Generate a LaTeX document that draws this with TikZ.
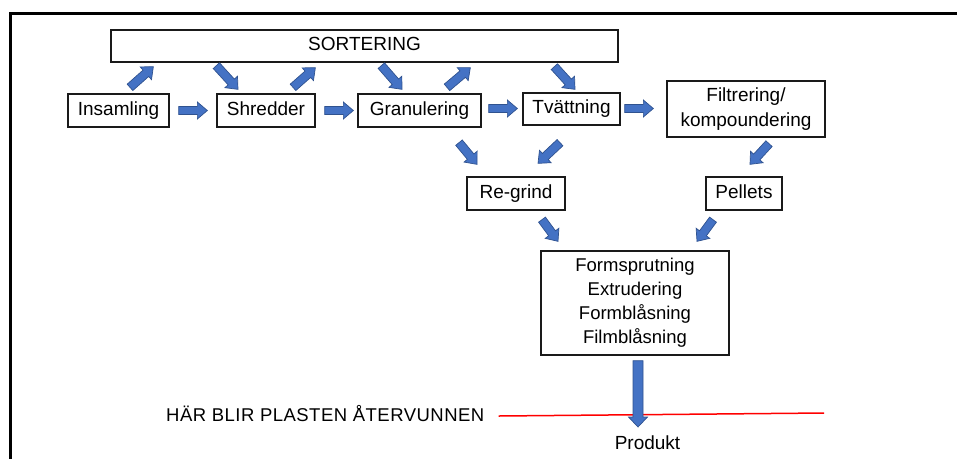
\documentclass[tikz,border=0pt]{standalone}
\usepackage{fontspec}
\setmainfont{Liberation Sans}
\usetikzlibrary{calc}

\definecolor{arrowblue}{HTML}{4472C4}
\definecolor{arrowedge}{HTML}{2F528F}
\definecolor{boxline}{HTML}{1A1A1A}

\tikzset{
  box/.style={draw=boxline, line width=1.3, fill=white, inner sep=0pt,
              font=\fontsize{19}{24}\selectfont},
  onebox/.style={box, text height=13.6pt, text depth=4pt},
  multibox/.style={box, align=center},
  lbl/.style={inner sep=0pt, font=\fontsize{19}{22}\selectfont},
  blockarr/.style={fill=arrowblue, draw=arrowedge, line width=0.7, line join=miter},
  redline/.style={draw=red, line width=1.5},
  frameline/.style={draw=black, line width=3}
}

% Block arrow from #1 to #2 (tip), shaft half-width #3, head half-width #4,
% head length 10.
\newcommand\blockarrow[4]{%
  \filldraw[blockarr] let \p1=#1, \p2=#2,
      \n1={atan2(\y2-\y1,\x2-\x1)},
      \n2={veclen(\x2-\x1,\y2-\y1)-10} in
    ($(\p1)+(\n1+90:#3)$) -- ($(\p1)+(\n1:\n2)+(\n1+90:#3)$)
    -- ($(\p1)+(\n1:\n2)+(\n1+90:#4)$) -- (\p2)
    -- ($(\p1)+(\n1:\n2)+(\n1-90:#4)$) -- ($(\p1)+(\n1:\n2)+(\n1-90:#3)$)
    -- ($(\p1)+(\n1-90:#3)$) -- cycle;}

\begin{document}
\begin{tikzpicture}[x=1pt, y=1pt]
\useasboundingbox (0,0) rectangle (957,-459);

% frame (top and left edges)
\draw[frameline] (957,-13) -- (10,-13) -- (10,-459);

% process boxes
\node[onebox, minimum width=507, minimum height=32] (sort) at (364.5,-46) {SORTERING};
\node[onebox, minimum width=101, minimum height=33] (ins)  at (118.5,-110.5) {Insamling};
\node[onebox, minimum width=98,  minimum height=33] (shr)  at (266,-110.5) {Shredder};
\node[onebox, minimum width=123, minimum height=33] (gran) at (419.5,-110.5) {Granulering};
\node[onebox, minimum width=97,  minimum height=32] (tvat) at (571.5,-109) {Tvättning};
\node[multibox, font=\fontsize{19}{25}\selectfont, minimum width=158, minimum height=56]
     (filt) at (746,-109) {Filtrering/\\kompoundering};
\node[onebox, minimum width=98,  minimum height=33] (regr) at (516,-193.5) {Re-grind};
\node[onebox, minimum width=76,  minimum height=33] (pell) at (744,-193.5) {Pellets};
\node[multibox, font=\fontsize{18.5}{24}\selectfont, minimum width=188, minimum height=104]
     (proc) at (635,-303)
     {Formsprutning\\Extrudering\\Formblåsning\\Filmblåsning};

% labels
\node[lbl, anchor=base west,
      font=\fontsize{18.5}{20}\selectfont\addfontfeatures{LetterSpace=2.6}]
     (har) at (166,-421) {HÄR BLIR PLASTEN ÅTERVUNNEN};
\node[lbl, anchor=base] (prod) at (647.5,-449) {Produkt};

% recycling boundary line
\coordinate (redend) at (824,-413);
\draw[redline] ($(har.base east)+(14,5)$) -- (redend);

% arrows to and from SORTERING
\blockarrow{($(ins.north)+(11.5,6)$)}{($(sort.south west)+(43,-4)$)}{4.25}{8.5}
\blockarrow{($(sort.south west)+(106,-3)$)}{($(shr.north)+(-28,4)$)}{4.25}{8.5}
\blockarrow{($(shr.north)+(27,6)$)}{($(sort.south west)+(205,-5)$)}{4.25}{8.5}
\blockarrow{($(sort.south west)+(271,-3)$)}{($(gran.north)+(-17.5,4)$)}{4.25}{8.5}
\blockarrow{($(gran.north)+(27.5,6)$)}{($(sort.south west)+(360,-5)$)}{4.25}{8.5}
\blockarrow{($(sort.south west)+(444,-4)$)}{($(tvat.north)+(3.5,3)$)}{4.25}{8.5}

% main chain
\blockarrow{($(ins.east)+(9,0)$)}{($(shr.west)+(-9,0)$)}{4}{8.5}
\blockarrow{($(shr.east)+(9,0)$)}{($(gran.west)+(-4,0)$)}{4}{8.5}
\blockarrow{($(gran.east)+(7,2)$)}{($(tvat.west)+(-5,0.5)$)}{4}{8.5}
\blockarrow{($(tvat.east)+(4,0.5)$)}{($(filt.west)+(-13,0.5)$)}{4}{8.5}

% to Re-grind and Pellets
\blockarrow{($(gran.south)+(39.5,-15)$)}{($(regr.north)+(-39,12)$)}{4.25}{8.5}
\blockarrow{($(tvat.south)+(-11.5,-17)$)}{($(regr.north)+(22,13)$)}{4.25}{8.5}
\blockarrow{($(filt.south)+(23,-6)$)}{($(pell.north)+(6,12)$)}{4.25}{8.5}

% to processing
\blockarrow{($(regr.south)+(26,-9)$)}{($(proc.north)+(-77,9)$)}{4.25}{8.5}
\blockarrow{($(pell.south)+(-31,-9)$)}{($(proc.north)+(62,9)$)}{4.25}{8.5}

% to product
\blockarrow{($(proc.south)+(3,-5)$)}{($(prod.base)+(-9.5,22)$)}{5}{9.5}
\end{tikzpicture}
\end{document}
